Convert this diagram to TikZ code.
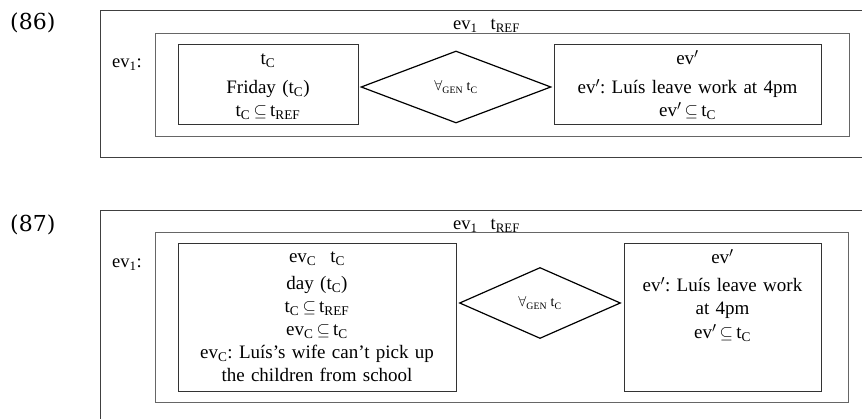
\documentclass[tikz,border=0pt]{standalone}
\usepackage{fontspec}
\setmainfont{Liberation Serif}
\newfontfamily\exfont{DejaVu Serif}
\usetikzlibrary{shapes.geometric}
\frenchspacing
\newcommand{\sbc}[1]{\textsubscript{#1}}
\newcommand{\tc}{t\sbc{C}}
\newcommand{\tref}{t\sbc{REF}}
\newcommand{\evc}{ev\sbc{C}}
\newcommand{\evp}{ev$'$}
\newcommand{\incl}{\,$\subseteq$\,}
\tikzset{
  exno/.style={anchor=base west,inner sep=0,font=\exfont\fontsize{22}{24}\selectfont},
  outerbox/.style={draw=black!75,line width=1.1pt,inner sep=0,anchor=north west},
  midbox/.style={draw=black!60,line width=1pt,inner sep=0,anchor=north west},
  innerbox/.style={draw=black!80,line width=1pt,inner sep=0,anchor=north west},
  gen/.style={diamond,draw,line width=1.2pt,inner sep=0,font=\fontsize{14}{16}\selectfont},
  lbl/.style={anchor=base west,inner sep=0,font=\fontsize{18.5}{22}\selectfont},
  body/.style={anchor=base,align=center,inner sep=0,font=\fontsize{19}{23}\selectfont}
}
\begin{document}
\begin{tikzpicture}[x=1pt,y=-1pt]
\useasboundingbox (0,0) rectangle (862,419);
% (86)
\node[exno] (nA) at (10,30) {(86)};
\node[outerbox,minimum width=780pt,minimum height=147pt] (outA) at (100,10) {};
\node[lbl] (refA) at (453,30) {ev\sbc{1}\hspace{13pt}\tref};
\node[midbox,minimum width=694pt,minimum height=103pt] (midA) at (155,33) {};
\node[lbl] (evA) at (112,68) {ev\sbc{1}:};
\node[innerbox,minimum width=180pt,minimum height=80pt] (leftA) at (178,44) {};
\node[gen,minimum width=190pt,minimum height=72pt] (genA) at (456,87) {$\forall$\sbc{GEN} \tc};
\node[innerbox,minimum width=267pt,minimum height=80pt] (rightA) at (554,44) {};
\node[body,text width=170pt] (leftAtxt) at (268,65) {\tc\\[6pt] Friday (\tc)\\ \tc\incl\tref};
\node[body,text width=260pt] (rightAtxt) at (687.5,65) {\evp\\[6pt] \evp: Luís leave work at 4pm\\ \evp\incl\tc};
% (87)
\node[exno] (nB) at (10,232) {(87)};
\node[outerbox,minimum width=780pt,minimum height=240pt] (outB) at (100,210) {};
\node[lbl] (refB) at (453,230) {ev\sbc{1}\hspace{13pt}\tref};
\node[midbox,minimum width=693pt,minimum height=170pt] (midB) at (155,232) {};
\node[lbl] (evB) at (112,268) {ev\sbc{1}:};
\node[innerbox,minimum width=278pt,minimum height=148pt] (leftB) at (178,243) {};
\node[gen,minimum width=161pt,minimum height=71pt] (genB) at (540,303) {$\forall$\sbc{GEN} \tc};
\node[innerbox,minimum width=197pt,minimum height=148pt] (rightB) at (624,243) {};
\node[body,text width=270pt] (leftBtxt) at (317,263) {\evc\hspace{14pt}\tc\\[4pt] day (\tc)\\ \tc\incl\tref\\ \evc\incl\tc\\ \evc: Luís's wife can't pick up\\ the children from school};
\node[body,text width=190pt] (rightBtxt) at (722.5,264) {\evp\\[5pt] \evp: Luís leave work\\ at 4pm\\[1pt] \evp\incl\tc};
\end{tikzpicture}
\end{document}
